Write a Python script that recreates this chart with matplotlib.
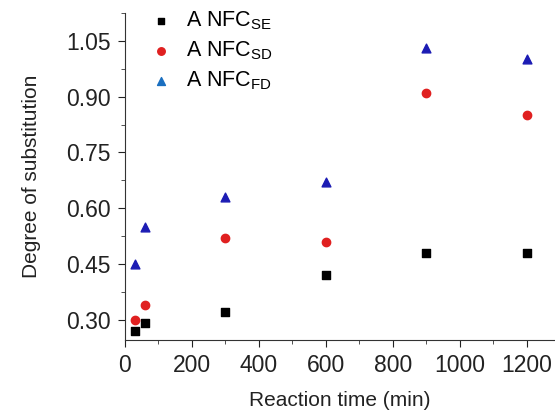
import matplotlib
matplotlib.use("Agg")
import matplotlib.pyplot as plt
from matplotlib.ticker import MultipleLocator

plt.rcParams['font.family'] = ['Liberation Sans', 'DejaVu Sans']

time = [30, 60, 300, 600, 900, 1200]
ds_se = [0.27, 0.29, 0.32, 0.42, 0.48, 0.48]
ds_sd = [0.30, 0.34, 0.52, 0.51, 0.91, 0.85]
ds_fd = [0.45, 0.55, 0.63, 0.67, 1.03, 1.00]
labels = ["A NFC$_{\\mathregular{SE}}$", "A NFC$_{\\mathregular{SD}}$", "A NFC$_{\\mathregular{FD}}$"]

fig = plt.figure(figsize=(5.55, 4.18), dpi=100)
ax = fig.add_axes([0.225, 0.187, 0.775, 0.782])

ax.scatter(time, ds_se, marker='s', s=28, color='black', label=labels[0], zorder=3)
ax.scatter(time, ds_sd, marker='o', s=36, color='#e02020', label=labels[1], zorder=3)
ax.scatter(time, ds_fd, marker='^', s=40, color='#1c1cb4', label=labels[2], zorder=3)

ax.set_xlim(0, 1284)
ax.set_ylim(0.246, 1.125)
ax.xaxis.set_major_locator(MultipleLocator(200))
ax.xaxis.set_minor_locator(MultipleLocator(100))
ax.yaxis.set_major_locator(MultipleLocator(0.15))
ax.yaxis.set_minor_locator(MultipleLocator(0.075))
ax.yaxis.set_major_formatter(matplotlib.ticker.FormatStrFormatter('%.2f'))

for s in ['top', 'right']:
    ax.spines[s].set_visible(False)
for s in ['left', 'bottom']:
    ax.spines[s].set_color('#333333')
ax.tick_params(which='major', direction='out', length=5, labelsize=16.5, colors='#222222', pad=5)
ax.tick_params(which='minor', direction='out', length=3, colors='#333333')

ax.set_xlabel("Reaction time (min)", fontsize=15, color='#222222', labelpad=10)
ax.set_ylabel("Degree of substitution", fontsize=15, color='#222222', labelpad=18)

leg = ax.legend(loc='upper left', bbox_to_anchor=(0.005, 1.05), frameon=False, fontsize=15.5,
                handletextpad=0.15, labelspacing=0.35, borderaxespad=0.2, markerscale=0.9)
leg.legend_handles[2].set_color('#1a6fc0')

fig.savefig("out.png", dpi=100)
